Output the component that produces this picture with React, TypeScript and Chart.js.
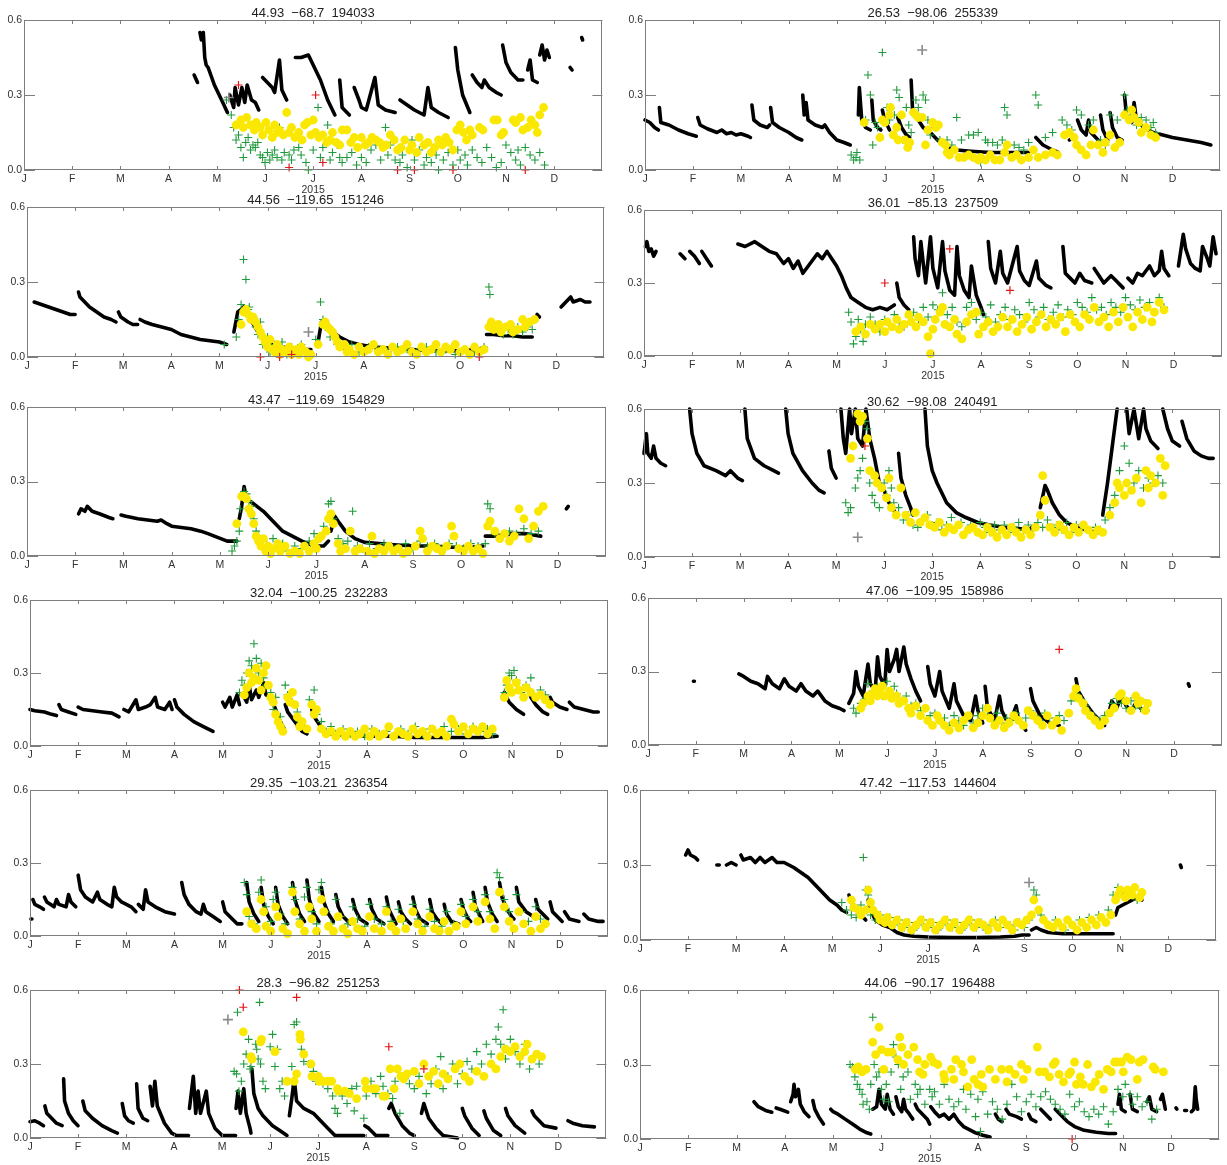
import { useEffect, useRef } from 'react';
import { Chart, registerables } from 'chart.js';
Chart.register(...registerables);

type Pt = [number, number];

const monthLabels = ['J', 'F', 'M', 'A', 'M', 'J', 'J', 'A', 'S', 'O', 'N', 'D'];
const yTickValues = [0, 0.3, 0.6];
const yearLabel = '2015';
const panelTitles = [
  '44.93  \u221268.7  194033',
  '26.53  \u221298.06  255339',
  '44.56  \u2212119.65  151246',
  '36.01  \u221285.13  237509',
  '43.47  \u2212119.69  154829',
  '30.62  \u221298.08  240491',
  '32.04  \u2212100.25  232283',
  '47.06  \u2212109.95  158986',
  '29.35  \u2212103.21  236354',
  '47.42  \u2212117.53  144604',
  '28.3  \u221296.82  251253',
  '44.06  \u221290.17  196488',
];

// ---------- Panel 1 ----------
const p1Black: Pt[][] = [
  [[3.53,0.38],[3.6,0.35]],
  [[3.65,0.55],[3.68,0.52],[3.72,0.55],[3.75,0.45],[3.78,0.42],[3.82,0.41],[3.95,0.34],[4.1,0.28],[4.22,0.23]],
  [[4.27,0.3],[4.35,0.25],[4.38,0.33],[4.45,0.26],[4.52,0.33],[4.58,0.27],[4.63,0.34],[4.72,0.28],[4.8,0.27],[4.87,0.24]],
  [[4.95,0.37],[5.05,0.35],[5.15,0.33],[5.2,0.31],[5.3,0.44],[5.35,0.32],[5.45,0.28]],
  [[5.63,0.45],[5.75,0.45],[5.9,0.46],[6.0,0.42],[6.15,0.36],[6.3,0.28],[6.45,0.22]],
  [[6.55,0.36],[6.6,0.25],[6.75,0.22]],
  [[6.85,0.33],[6.95,0.28],[7.0,0.25],[7.1,0.24],[7.28,0.37],[7.35,0.26],[7.5,0.24],[7.7,0.23]],
  [[7.8,0.28],[7.95,0.26],[8.1,0.24],[8.3,0.22],[8.38,0.33],[8.45,0.25],[8.6,0.23],[8.8,0.21]],
  [[8.95,0.49],[9.0,0.4],[9.1,0.3],[9.25,0.23]],
  [[9.3,0.38],[9.4,0.35],[9.5,0.33],[9.55,0.36],[9.65,0.33],[9.8,0.31],[9.9,0.3]],
  [[9.93,0.5],[10.0,0.43],[10.1,0.39],[10.25,0.36],[10.35,0.36]],
  [[10.45,0.4],[10.5,0.44],[10.55,0.36],[10.65,0.35]],
  [[10.7,0.46],[10.75,0.5],[10.8,0.44],[10.85,0.48],[10.9,0.45]],
  [[11.33,0.41],[11.37,0.4]],
  [[11.57,0.53],[11.59,0.52]],
];
const p1Yellow: Pt[] = [[4.4,0.18],[4.5,0.2],[4.55,0.17],[4.62,0.21],[4.7,0.18],[4.78,0.16],[4.82,0.19],[4.9,0.17],[4.95,0.14],[5.02,0.19],[5.08,0.16],[5.15,0.13],[5.2,0.18],[5.25,0.15],[5.3,0.16],[5.38,0.14],[5.45,0.23],[5.5,0.15],[5.55,0.17],[5.62,0.13],[5.7,0.15],[5.77,0.12],[5.82,0.18],[5.88,0.19],[5.95,0.14],[6.0,0.2],[6.05,0.15],[6.12,0.13],[6.2,0.14],[6.28,0.11],[6.35,0.12],[6.4,0.15],[6.48,0.11],[6.55,0.1],[6.6,0.16],[6.7,0.16],[6.78,0.11],[6.85,0.13],[6.92,0.09],[7.0,0.13],[7.08,0.1],[7.15,0.11],[7.22,0.13],[7.3,0.12],[7.38,0.11],[7.45,0.09],[7.52,0.1],[7.6,0.14],[7.68,0.12],[7.75,0.08],[7.82,0.09],[7.9,0.12],[8.0,0.08],[8.05,0.1],[8.15,0.07],[8.2,0.13],[8.3,0.1],[8.38,0.11],[8.45,0.07],[8.52,0.09],[8.6,0.12],[8.68,0.1],[8.75,0.13],[8.82,0.11],[8.9,0.08],[8.98,0.16],[9.05,0.18],[9.12,0.15],[9.18,0.12],[9.25,0.16],[9.3,0.14],[9.45,0.17],[9.52,0.16],[9.75,0.2],[9.82,0.2],[9.9,0.14],[9.95,0.15],[10.15,0.2],[10.2,0.19],[10.3,0.21],[10.35,0.16],[10.45,0.17],[10.52,0.2],[10.6,0.18],[10.65,0.15],[10.7,0.22],[10.78,0.25]];
const p1Green: Pt[] = [[4.2,0.28],[4.3,0.22],[4.35,0.17],[4.4,0.12],[4.45,0.14],[4.5,0.09],[4.55,0.05],[4.6,0.11],[4.65,0.13],[4.7,0.08],[4.75,0.1],[4.8,0.09],[4.85,0.11],[4.9,0.06],[4.95,0.05],[5.0,0.03],[5.05,0.07],[5.1,0.04],[5.15,0.06],[5.2,0.08],[5.25,0.05],[5.3,0.17],[5.35,0.04],[5.4,0.07],[5.5,0.06],[5.55,0.04],[5.6,0.08],[5.7,0.09],[5.75,0.06],[5.85,0.03],[5.9,0.0],[6.0,0.08],[6.1,0.25],[6.15,0.05],[6.2,0.09],[6.3,0.18],[6.35,0.04],[6.4,0.07],[6.5,0.1],[6.55,0.05],[6.6,0.03],[6.7,0.05],[6.8,0.07],[6.9,0.02],[7.0,0.05],[7.1,0.03],[7.2,0.08],[7.3,0.1],[7.4,0.04],[7.5,0.17],[7.55,0.06],[7.6,0.1],[7.7,0.04],[7.8,0.03],[7.85,0.06],[7.95,0.01],[8.05,0.12],[8.1,0.04],[8.2,0.08],[8.3,0.02],[8.35,0.05],[8.45,0.03],[8.55,0.06],[8.6,0.0],[8.7,0.04],[8.8,0.07],[8.9,0.02],[9.0,0.08],[9.05,0.04],[9.15,0.06],[9.2,0.02],[9.3,0.08],[9.4,0.05],[9.5,0.03],[9.6,0.09],[9.7,0.05],[9.8,0.01],[9.9,0.03],[10.0,0.1],[10.1,0.07],[10.2,0.04],[10.25,0.08],[10.3,0.02],[10.4,0.09],[10.5,0.06],[10.6,0.04],[10.7,0.07],[10.8,0.02]];
const p1Red: Pt[] = [[4.45,0.34],[5.5,0.01],[6.05,0.3],[6.2,0.03],[7.75,0.0],[8.1,0.0],[8.9,0.0],[10.4,0.0]];
const p1Gray: Pt[] = [[4.25,0.29]];

// ---------- Panel 2 ----------
const p2Black: Pt[][] = [
  [[0,0.2],[0.1,0.19],[0.2,0.17],[0.28,0.16]],
  [[0.3,0.25],[0.33,0.19],[0.5,0.18],[0.7,0.16],[0.9,0.145],[1.07,0.135]],
  [[1.1,0.21],[1.15,0.18],[1.3,0.165],[1.5,0.15],[1.6,0.16],[1.7,0.145],[1.8,0.15],[1.9,0.14],[2.0,0.145],[2.15,0.135],[2.2,0.13]],
  [[2.23,0.26],[2.27,0.2],[2.4,0.18],[2.55,0.17],[2.6,0.18]],
  [[2.62,0.25],[2.66,0.19],[2.8,0.17],[3.0,0.15],[3.15,0.13],[3.27,0.12]],
  [[3.29,0.3],[3.32,0.22],[3.36,0.27],[3.4,0.2],[3.55,0.18],[3.7,0.17],[3.75,0.18],[3.85,0.15],[4.0,0.12],[4.15,0.11],[4.28,0.1]],
  [[4.45,0.22],[4.47,0.33],[4.52,0.2],[4.6,0.17],[4.7,0.16]],
  [[4.73,0.28],[4.76,0.2],[4.85,0.17],[4.92,0.16]],
  [[4.95,0.24],[5.0,0.2],[5.1,0.16]],
  [[5.27,0.21],[5.35,0.17],[5.45,0.14],[5.52,0.13]],
  [[5.55,0.36],[5.58,0.24],[5.7,0.2],[5.8,0.17],[5.95,0.15],[6.1,0.12],[6.3,0.09],[6.5,0.08],[6.8,0.075],[7.2,0.07],[7.6,0.07],[8.0,0.07]],
  [[8.15,0.13],[8.3,0.1],[8.5,0.08],[8.62,0.07]],
  [[8.85,0.12],[8.95,0.13]],
  [[9.02,0.2],[9.1,0.16],[9.2,0.14],[9.25,0.2],[9.3,0.15],[9.45,0.12]],
  [[9.5,0.22],[9.55,0.16],[9.65,0.12]],
  [[9.7,0.23],[9.75,0.17],[9.85,0.13],[9.95,0.12]],
  [[10.0,0.3],[10.05,0.2],[10.15,0.19],[10.2,0.27],[10.25,0.2],[10.4,0.17],[10.6,0.15],[10.8,0.14],[11.0,0.13],[11.3,0.12],[11.6,0.11],[11.8,0.1]],
];
const p2Yellow: Pt[] = [[4.57,0.19],[4.9,0.13],[4.95,0.2],[5.0,0.19],[5.1,0.22],[5.12,0.25],[5.18,0.14],[5.25,0.17],[5.28,0.12],[5.35,0.22],[5.42,0.12],[5.48,0.09],[5.52,0.11],[5.6,0.23],[5.65,0.22],[5.7,0.21],[5.78,0.21],[5.85,0.1],[5.9,0.16],[6.0,0.19],[6.07,0.17],[6.12,0.18],[6.2,0.11],[6.27,0.1],[6.3,0.07],[6.35,0.06],[6.45,0.08],[6.55,0.05],[6.65,0.05],[6.75,0.06],[6.85,0.05],[6.95,0.04],[7.0,0.05],[7.1,0.04],[7.2,0.06],[7.3,0.04],[7.4,0.04],[7.5,0.07],[7.55,0.1],[7.65,0.05],[7.75,0.06],[7.85,0.04],[8.0,0.05],[8.1,0.08],[8.2,0.05],[8.35,0.06],[8.5,0.07],[8.6,0.06],[8.75,0.14],[8.85,0.15],[8.95,0.13],[9.0,0.1],[9.1,0.08],[9.2,0.06],[9.3,0.1],[9.35,0.16],[9.45,0.1],[9.55,0.07],[9.6,0.11],[9.7,0.14],[9.8,0.09],[9.9,0.11],[10.0,0.22],[10.1,0.2],[10.15,0.24],[10.2,0.21],[10.3,0.19],[10.35,0.15],[10.45,0.17],[10.55,0.14],[10.65,0.13]];
const p2Green: Pt[] = [[4.3,0.06],[4.35,0.04],[4.4,0.05],[4.42,0.07],[4.48,0.04],[4.6,0.2],[4.65,0.38],[4.7,0.3],[4.75,0.1],[4.8,0.19],[4.85,0.17],[4.95,0.47],[5.05,0.25],[5.1,0.2],[5.2,0.22],[5.25,0.32],[5.3,0.29],[5.38,0.12],[5.45,0.25],[5.5,0.18],[5.55,0.15],[5.65,0.28],[5.7,0.25],[5.8,0.3],[5.85,0.28],[5.9,0.2],[5.95,0.14],[6.05,0.17],[6.15,0.12],[6.3,0.12],[6.4,0.1],[6.5,0.21],[6.6,0.12],[6.75,0.14],[6.85,0.14],[6.95,0.15],[7.0,0.03],[7.1,0.12],[7.15,0.11],[7.25,0.11],[7.35,0.1],[7.45,0.12],[7.5,0.25],[7.55,0.22],[7.7,0.1],[7.8,0.09],[7.9,0.08],[8.0,0.11],[8.15,0.3],[8.2,0.26],[8.35,0.13],[8.5,0.15],[8.7,0.2],[8.8,0.18],[8.9,0.16],[9.0,0.24],[9.1,0.22],[9.25,0.18],[9.35,0.2],[9.5,0.12],[9.6,0.1],[9.7,0.22],[9.85,0.2],[10.0,0.3],[10.05,0.24],[10.15,0.22],[10.25,0.18],[10.35,0.21],[10.45,0.2],[10.55,0.17],[10.6,0.19],[10.65,0.15]];
const p2Red: Pt[] = [];
const p2Gray: Pt[] = [[5.78,0.48]];

// ---------- Panel 3 ----------
const p3Black: Pt[][] = [
  [[0.15,0.22],[0.3,0.21],[0.45,0.2],[0.6,0.19],[0.75,0.18],[0.9,0.17],[1.0,0.17]],
  [[1.07,0.26],[1.1,0.24],[1.2,0.22],[1.3,0.2],[1.45,0.18],[1.6,0.16],[1.75,0.15],[1.85,0.14]],
  [[1.9,0.18],[1.95,0.16],[2.1,0.14],[2.2,0.13],[2.3,0.13]],
  [[2.35,0.15],[2.45,0.14],[2.6,0.13],[2.8,0.12],[3.0,0.11],[3.2,0.09],[3.4,0.08],[3.6,0.07],[3.8,0.065],[4.0,0.06],[4.15,0.05]],
  [[4.3,0.1],[4.38,0.18],[4.45,0.19],[4.5,0.2],[4.55,0.18],[4.65,0.15],[4.8,0.1],[4.95,0.07],[5.1,0.05],[5.3,0.04],[5.5,0.035],[5.7,0.03],[5.9,0.03]],
  [[6.05,0.06],[6.12,0.14],[6.2,0.13],[6.35,0.1],[6.5,0.08],[6.7,0.06],[6.9,0.05],[7.2,0.04],[7.6,0.035],[8.0,0.03],[8.5,0.025],[9.0,0.025],[9.4,0.03],[9.5,0.04]],
  [[9.55,0.09],[9.7,0.09],[9.9,0.085],[10.1,0.085],[10.3,0.08],[10.5,0.08]],
  [[10.6,0.17],[10.65,0.16]],
  [[11.1,0.2],[11.2,0.22],[11.3,0.24],[11.35,0.22],[11.5,0.23],[11.6,0.22],[11.7,0.22]],
];
const p3Yellow: Pt[] = [[4.45,0.13],[4.5,0.18],[4.55,0.19],[4.6,0.17],[4.65,0.15],[4.7,0.16],[4.75,0.14],[4.8,0.12],[4.85,0.1],[4.9,0.08],[4.95,0.06],[5.0,0.04],[5.05,0.07],[5.1,0.03],[5.15,0.02],[5.2,0.05],[5.25,0.01],[5.3,0.03],[5.4,0.02],[5.45,0.04],[5.5,0.01],[5.6,0.03],[5.65,0.01],[5.7,0.04],[5.8,0.02],[5.85,0.0],[5.9,0.01],[6.05,0.05],[6.15,0.13],[6.2,0.14],[6.25,0.12],[6.3,0.11],[6.35,0.1],[6.4,0.08],[6.45,0.06],[6.5,0.04],[6.6,0.05],[6.65,0.02],[6.7,0.03],[6.8,0.01],[6.9,0.04],[7.0,0.02],[7.1,0.03],[7.2,0.05],[7.3,0.02],[7.4,0.03],[7.5,0.01],[7.6,0.04],[7.7,0.02],[7.8,0.03],[7.9,0.05],[8.0,0.02],[8.1,0.01],[8.2,0.04],[8.3,0.02],[8.4,0.03],[8.5,0.05],[8.6,0.02],[8.7,0.04],[8.8,0.03],[8.9,0.05],[9.0,0.02],[9.1,0.03],[9.2,0.01],[9.3,0.04],[9.4,0.02],[9.5,0.03],[9.6,0.12],[9.65,0.14],[9.7,0.11],[9.8,0.13],[9.85,0.1],[9.95,0.12],[10.05,0.13],[10.1,0.1],[10.2,0.11],[10.3,0.15],[10.35,0.12],[10.45,0.14],[10.55,0.15]];
const p3Green: Pt[] = [[4.1,0.05],[4.35,0.08],[4.4,0.15],[4.45,0.21],[4.5,0.39],[4.55,0.31],[4.6,0.19],[4.62,0.2],[4.7,0.16],[4.75,0.12],[4.8,0.09],[4.85,0.14],[4.9,0.05],[5.0,0.08],[5.05,0.02],[5.15,0.05],[5.2,0.03],[5.3,0.06],[5.4,0.01],[5.5,0.04],[5.6,0.02],[5.7,0.05],[5.8,0.01],[6.0,0.07],[6.1,0.22],[6.15,0.15],[6.2,0.12],[6.3,0.08],[6.45,0.05],[6.6,0.03],[6.75,0.05],[6.9,0.02],[7.1,0.04],[7.3,0.03],[7.5,0.02],[7.7,0.04],[7.9,0.03],[8.1,0.02],[8.3,0.04],[8.5,0.02],[8.7,0.03],[8.9,0.01],[9.1,0.03],[9.3,0.02],[9.5,0.04],[9.6,0.28],[9.62,0.25],[9.7,0.12],[9.8,0.1],[9.9,0.09],[10.0,0.11],[10.1,0.09],[10.2,0.12],[10.3,0.1],[10.4,0.12],[10.5,0.11]];
const p3Red: Pt[] = [[4.85,0.0],[5.25,0.0],[5.5,0.01],[9.4,0.0]];
const p3Gray: Pt[] = [[5.85,0.1]];

// ---------- Panel 4 ----------
const p4Black: Pt[][] = [
  [[0.03,0.45],[0.06,0.47],[0.1,0.43],[0.15,0.44],[0.2,0.41],[0.25,0.43]],
  [[0.75,0.42],[0.85,0.4]],
  [[0.95,0.43],[1.05,0.41],[1.15,0.38]],
  [[1.2,0.43],[1.3,0.4],[1.4,0.37]],
  [[1.95,0.46],[2.1,0.45],[2.3,0.47],[2.45,0.45],[2.6,0.43],[2.75,0.42],[2.9,0.38],[3.0,0.4],[3.1,0.36],[3.2,0.39],[3.3,0.34],[3.45,0.38],[3.6,0.42],[3.7,0.4],[3.8,0.43],[3.9,0.4],[4.0,0.37],[4.1,0.33],[4.2,0.28],[4.3,0.24],[4.45,0.22],[4.6,0.2],[4.75,0.19],[4.9,0.2],[5.05,0.19],[5.2,0.21]],
  [[5.25,0.3],[5.3,0.24],[5.4,0.21],[5.5,0.19]],
  [[5.6,0.49],[5.63,0.4],[5.7,0.33],[5.75,0.47],[5.8,0.38],[5.85,0.3],[5.95,0.49],[6.0,0.36],[6.1,0.28],[6.2,0.47],[6.25,0.35],[6.35,0.27],[6.45,0.25],[6.5,0.45],[6.55,0.33],[6.65,0.27],[6.75,0.24],[6.8,0.37],[6.9,0.25],[7.0,0.2],[7.05,0.17]],
  [[7.15,0.47],[7.2,0.36],[7.3,0.3],[7.4,0.43],[7.45,0.34],[7.55,0.3],[7.75,0.45],[7.8,0.35],[7.9,0.31],[8.0,0.29],[8.15,0.39],[8.2,0.32],[8.35,0.29],[8.45,0.28]],
  [[8.7,0.45],[8.75,0.34],[8.85,0.32],[8.95,0.3],[9.05,0.34],[9.15,0.31],[9.3,0.3]],
  [[9.35,0.36],[9.45,0.33],[9.55,0.3],[9.7,0.33],[9.8,0.31],[9.95,0.28]],
  [[10.05,0.32],[10.15,0.3],[10.25,0.34],[10.35,0.33],[10.5,0.37],[10.6,0.33],[10.7,0.35],[10.75,0.43],[10.8,0.36],[10.9,0.33]],
  [[11.1,0.37],[11.2,0.5],[11.25,0.44],[11.35,0.38],[11.45,0.36],[11.55,0.35],[11.6,0.45],[11.7,0.4],[11.75,0.37],[11.82,0.49],[11.88,0.42]],
];
const p4Yellow: Pt[] = [[4.4,0.1],[4.5,0.12],[4.6,0.09],[4.7,0.13],[4.8,0.11],[4.9,0.13],[5.0,0.1],[5.05,0.14],[5.15,0.12],[5.25,0.15],[5.3,0.11],[5.4,0.13],[5.5,0.17],[5.55,0.14],[5.65,0.12],[5.7,0.16],[5.8,0.14],[5.9,0.08],[5.95,0.01],[6.0,0.11],[6.05,0.15],[6.15,0.18],[6.2,0.2],[6.25,0.13],[6.35,0.12],[6.45,0.15],[6.5,0.09],[6.6,0.07],[6.7,0.14],[6.8,0.17],[6.9,0.18],[6.95,0.09],[7.05,0.12],[7.15,0.14],[7.25,0.1],[7.35,0.12],[7.45,0.16],[7.55,0.12],[7.65,0.15],[7.75,0.1],[7.85,0.13],[7.95,0.16],[8.05,0.11],[8.15,0.14],[8.25,0.17],[8.35,0.12],[8.45,0.15],[8.55,0.13],[8.65,0.16],[8.75,0.1],[8.85,0.17],[8.95,0.14],[9.05,0.12],[9.15,0.17],[9.25,0.15],[9.35,0.2],[9.45,0.14],[9.55,0.16],[9.65,0.12],[9.75,0.18],[9.85,0.14],[9.95,0.2],[10.05,0.16],[10.15,0.12],[10.25,0.18],[10.35,0.15],[10.45,0.2],[10.55,0.14],[10.6,0.18],[10.7,0.22],[10.8,0.19]];
const p4Green: Pt[] = [[4.25,0.18],[4.3,0.14],[4.35,0.05],[4.4,0.08],[4.45,0.15],[4.5,0.11],[4.55,0.06],[4.6,0.13],[4.7,0.16],[4.8,0.13],[4.9,0.1],[5.0,0.15],[5.1,0.13],[5.2,0.17],[5.3,0.14],[5.4,0.12],[5.5,0.16],[5.6,0.18],[5.7,0.15],[5.8,0.2],[5.9,0.16],[6.0,0.21],[6.1,0.19],[6.2,0.26],[6.3,0.17],[6.4,0.2],[6.5,0.14],[6.6,0.12],[6.7,0.2],[6.8,0.22],[6.9,0.15],[7.0,0.18],[7.1,0.16],[7.2,0.21],[7.3,0.14],[7.4,0.17],[7.5,0.2],[7.6,0.15],[7.7,0.19],[7.8,0.17],[7.9,0.14],[8.0,0.22],[8.1,0.19],[8.2,0.16],[8.3,0.2],[8.4,0.15],[8.5,0.18],[8.6,0.21],[8.7,0.16],[8.8,0.19],[8.9,0.17],[9.0,0.22],[9.1,0.2],[9.2,0.18],[9.3,0.24],[9.4,0.19],[9.5,0.2],[9.6,0.17],[9.7,0.22],[9.8,0.2],[9.9,0.18],[10.0,0.24],[10.1,0.21],[10.2,0.19],[10.3,0.23],[10.4,0.2],[10.5,0.22],[10.6,0.18],[10.7,0.24],[10.8,0.2]];
const p4Red: Pt[] = [[5.0,0.3],[6.35,0.44],[7.6,0.27]];
const p4Gray: Pt[] = [];

// ---------- Panel 5 ----------
const p5Black: Pt[][] = [
  [[1.07,0.17],[1.12,0.19],[1.2,0.18],[1.25,0.2],[1.35,0.18],[1.5,0.17],[1.7,0.155],[1.78,0.15]],
  [[1.95,0.165],[2.05,0.16],[2.3,0.15],[2.5,0.145],[2.7,0.14],[2.78,0.145],[2.9,0.13],[3.0,0.12],[3.2,0.115],[3.4,0.11],[3.6,0.1],[3.75,0.09],[3.95,0.075],[4.15,0.06],[4.35,0.06]],
  [[4.4,0.15],[4.45,0.2],[4.5,0.28],[4.55,0.23],[4.7,0.21],[4.9,0.18],[5.1,0.14],[5.3,0.1],[5.5,0.08],[5.7,0.06],[5.95,0.04],[6.15,0.04],[6.25,0.06]],
  [[6.3,0.1],[6.38,0.16],[6.45,0.14],[6.6,0.1],[6.8,0.07],[7.0,0.055],[7.3,0.05],[7.6,0.045],[8.0,0.04],[8.4,0.04],[8.8,0.035],[9.2,0.035],[9.45,0.04]],
  [[9.5,0.08],[9.7,0.08],[9.9,0.085],[10.1,0.09],[10.3,0.09],[10.5,0.085],[10.65,0.08]],
  [[11.18,0.19],[11.22,0.2]],
];
const p5Yellow: Pt[] = [[4.35,0.13],[4.45,0.24],[4.5,0.24],[4.55,0.23],[4.6,0.19],[4.65,0.17],[4.7,0.13],[4.75,0.08],[4.8,0.06],[4.85,0.04],[4.9,0.07],[4.95,0.02],[5.0,0.04],[5.05,0.01],[5.1,0.03],[5.2,0.05],[5.25,0.02],[5.35,0.04],[5.45,0.01],[5.55,0.02],[5.65,0.01],[5.75,0.04],[5.85,0.02],[5.95,0.05],[6.0,0.03],[6.05,0.07],[6.1,0.08],[6.2,0.1],[6.25,0.15],[6.3,0.17],[6.35,0.13],[6.45,0.05],[6.5,0.02],[6.6,0.03],[6.7,0.1],[6.8,0.02],[6.9,0.03],[7.05,0.02],[7.15,0.08],[7.2,0.01],[7.3,0.03],[7.4,0.02],[7.5,0.04],[7.6,0.02],[7.7,0.03],[7.8,0.01],[7.9,0.02],[8.05,0.04],[8.15,0.1],[8.2,0.07],[8.3,0.02],[8.4,0.04],[8.5,0.03],[8.6,0.02],[8.7,0.04],[8.8,0.12],[8.85,0.08],[8.95,0.03],[9.05,0.02],[9.15,0.04],[9.25,0.02],[9.35,0.03],[9.45,0.01],[9.55,0.12],[9.6,0.14],[9.7,0.1],[9.8,0.07],[9.9,0.09],[10.0,0.06],[10.1,0.08],[10.2,0.19],[10.3,0.15],[10.4,0.07],[10.5,0.12],[10.6,0.18],[10.7,0.2]];
const p5Green: Pt[] = [[4.25,0.02],[4.3,0.04],[4.35,0.06],[4.4,0.1],[4.42,0.19],[4.45,0.24],[4.5,0.26],[4.55,0.25],[4.6,0.22],[4.65,0.2],[4.7,0.15],[4.75,0.1],[4.8,0.08],[4.9,0.06],[5.0,0.04],[5.1,0.07],[5.2,0.03],[5.3,0.05],[5.4,0.02],[5.55,0.04],[5.7,0.03],[5.85,0.06],[5.95,0.09],[6.05,0.07],[6.15,0.12],[6.25,0.21],[6.3,0.22],[6.35,0.15],[6.45,0.07],[6.55,0.05],[6.65,0.06],[6.75,0.18],[6.85,0.04],[6.95,0.03],[7.1,0.05],[7.25,0.03],[7.4,0.05],[7.55,0.04],[7.7,0.03],[7.85,0.05],[8.0,0.03],[8.15,0.06],[8.3,0.04],[8.45,0.05],[8.6,0.03],[8.75,0.05],[8.9,0.04],[9.05,0.03],[9.2,0.05],[9.35,0.04],[9.5,0.05],[9.55,0.21],[9.6,0.19],[9.7,0.09],[9.85,0.08],[10.0,0.1],[10.15,0.09],[10.3,0.11],[10.45,0.09],[10.6,0.1]];
const p5Red: Pt[] = [];
const p5Gray: Pt[] = [];

// ---------- Panel 6 ----------
const p6Black: Pt[][] = [
  [[0.0,0.42],[0.05,0.5],[0.08,0.42],[0.15,0.4],[0.2,0.45],[0.25,0.4],[0.35,0.38],[0.45,0.37]],
  [[0.95,0.6],[1.0,0.5],[1.1,0.42],[1.25,0.37],[1.5,0.35],[1.7,0.33],[1.8,0.35],[1.95,0.32],[2.05,0.31]],
  [[2.1,0.6],[2.15,0.48],[2.3,0.4],[2.5,0.37],[2.7,0.35],[2.8,0.34]],
  [[2.95,0.6],[3.0,0.5],[3.1,0.42],[3.3,0.35],[3.5,0.3],[3.65,0.27],[3.75,0.26]],
  [[3.85,0.43],[3.9,0.36],[4.0,0.32]],
  [[4.1,0.6],[4.15,0.48],[4.2,0.42],[4.28,0.6],[4.32,0.5],[4.4,0.6],[4.45,0.48],[4.55,0.45],[4.62,0.6],[4.7,0.48],[4.8,0.4],[4.9,0.3],[5.0,0.27],[5.1,0.22],[5.2,0.19],[5.25,0.17]],
  [[5.3,0.42],[5.35,0.32],[5.45,0.25],[5.55,0.2],[5.6,0.17]],
  [[5.85,0.6],[5.9,0.45],[6.0,0.35],[6.1,0.3],[6.3,0.22],[6.5,0.18],[6.7,0.16],[6.95,0.14],[7.2,0.13],[7.5,0.12],[7.8,0.115],[8.0,0.11],[8.15,0.13]],
  [[8.25,0.2],[8.35,0.29],[8.4,0.27],[8.5,0.22],[8.65,0.17],[8.8,0.14],[9.0,0.12],[9.2,0.11],[9.4,0.1],[9.5,0.1]],
  [[9.55,0.17],[9.65,0.3],[9.75,0.45],[9.85,0.6]],
  [[10.05,0.6],[10.1,0.5],[10.2,0.6],[10.3,0.48],[10.4,0.6],[10.45,0.52],[10.55,0.47],[10.7,0.44]],
  [[10.8,0.6],[10.9,0.52],[11.0,0.47],[11.15,0.45]],
  [[11.2,0.55],[11.3,0.48],[11.45,0.43],[11.6,0.41],[11.75,0.4],[11.85,0.4]],
];
const p6Yellow: Pt[] = [[4.3,0.4],[4.35,0.45],[4.45,0.58],[4.5,0.55],[4.55,0.57],[4.65,0.48],[4.7,0.35],[4.8,0.33],[4.85,0.3],[4.95,0.28],[5.05,0.24],[5.1,0.32],[5.15,0.2],[5.25,0.17],[5.35,0.28],[5.45,0.17],[5.55,0.14],[5.65,0.18],[5.75,0.14],[5.85,0.16],[5.95,0.13],[6.05,0.12],[6.15,0.14],[6.25,0.1],[6.35,0.12],[6.45,0.11],[6.55,0.13],[6.65,0.09],[6.75,0.11],[6.85,0.12],[6.95,0.1],[7.05,0.09],[7.15,0.12],[7.25,0.1],[7.35,0.08],[7.45,0.11],[7.55,0.09],[7.65,0.12],[7.75,0.1],[7.85,0.08],[7.95,0.11],[8.05,0.09],[8.15,0.12],[8.25,0.17],[8.3,0.33],[8.35,0.23],[8.45,0.12],[8.55,0.1],[8.65,0.13],[8.75,0.11],[8.85,0.09],[8.95,0.12],[9.05,0.1],[9.15,0.13],[9.25,0.11],[9.35,0.09],[9.45,0.11],[9.55,0.1],[9.7,0.17],[9.8,0.22],[9.85,0.3],[9.9,0.28],[10.0,0.25],[10.05,0.3],[10.15,0.27],[10.25,0.32],[10.35,0.22],[10.45,0.35],[10.5,0.28],[10.55,0.33],[10.65,0.3],[10.75,0.4],[10.8,0.25],[10.85,0.37]];
const p6Green: Pt[] = [[4.2,0.22],[4.25,0.18],[4.3,0.2],[4.4,0.28],[4.45,0.32],[4.5,0.35],[4.55,0.4],[4.6,0.55],[4.65,0.52],[4.7,0.3],[4.75,0.25],[4.8,0.22],[4.9,0.2],[5.0,0.3],[5.05,0.25],[5.1,0.35],[5.15,0.28],[5.2,0.22],[5.3,0.2],[5.4,0.15],[5.5,0.17],[5.6,0.13],[5.7,0.12],[5.8,0.15],[5.9,0.17],[6.0,0.13],[6.1,0.14],[6.2,0.11],[6.3,0.13],[6.4,0.16],[6.5,0.12],[6.6,0.14],[6.7,0.1],[6.8,0.13],[6.9,0.11],[7.0,0.14],[7.1,0.12],[7.2,0.1],[7.3,0.13],[7.4,0.11],[7.5,0.13],[7.6,0.1],[7.7,0.12],[7.8,0.14],[7.9,0.11],[8.0,0.13],[8.1,0.11],[8.2,0.14],[8.3,0.12],[8.4,0.15],[8.5,0.12],[8.6,0.13],[8.7,0.11],[8.8,0.14],[8.9,0.1],[9.0,0.13],[9.1,0.11],[9.2,0.12],[9.3,0.1],[9.4,0.12],[9.5,0.11],[9.6,0.15],[9.7,0.2],[9.8,0.25],[9.9,0.35],[10.0,0.45],[10.1,0.38],[10.2,0.3],[10.3,0.35],[10.4,0.28],[10.5,0.32],[10.6,0.3],[10.7,0.33],[10.8,0.3]];
const p6Red: Pt[] = [[4.6,0.45]];
const p6Gray: Pt[] = [[4.45,0.08]];

// ---------- Panel 7 ----------
const p7Black: Pt[][] = [
  [[0.0,0.15],[0.1,0.145],[0.3,0.14],[0.45,0.13],[0.55,0.125]],
  [[0.6,0.17],[0.65,0.15],[0.8,0.14],[0.95,0.13]],
  [[1.0,0.16],[1.1,0.15],[1.3,0.145],[1.5,0.14],[1.7,0.135],[1.85,0.12]],
  [[1.95,0.15],[2.05,0.14],[2.2,0.19],[2.25,0.15],[2.4,0.16],[2.5,0.17],[2.6,0.2],[2.65,0.16],[2.8,0.15],[2.9,0.18],[2.95,0.15]],
  [[3.0,0.19],[3.05,0.16],[3.2,0.13],[3.4,0.1],[3.6,0.08],[3.8,0.06]],
  [[4.0,0.18],[4.05,0.16],[4.15,0.2],[4.2,0.16],[4.3,0.21],[4.35,0.17]],
  [[4.45,0.2],[4.5,0.18],[4.55,0.25],[4.6,0.19],[4.7,0.23],[4.75,0.2],[4.85,0.26],[4.9,0.21],[5.0,0.2],[5.1,0.15],[5.2,0.1],[5.28,0.07]],
  [[5.3,0.17],[5.35,0.14],[5.5,0.1],[5.65,0.06],[5.75,0.05]],
  [[5.85,0.15],[5.9,0.12],[6.0,0.09],[6.1,0.06],[6.2,0.05],[6.5,0.045],[7.0,0.04],[7.5,0.04],[8.0,0.035],[8.5,0.035],[9.0,0.035],[9.4,0.035],[9.7,0.04]],
  [[9.8,0.2],[9.85,0.22],[9.95,0.18],[10.1,0.15],[10.25,0.13]],
  [[10.35,0.24],[10.4,0.2],[10.5,0.17],[10.65,0.14],[10.75,0.13]],
  [[10.8,0.2],[10.85,0.18],[11.0,0.16],[11.15,0.15]],
  [[11.2,0.18],[11.3,0.16],[11.5,0.15],[11.7,0.14],[11.8,0.14]],
];
const p7Yellow: Pt[] = [[4.45,0.21],[4.5,0.24],[4.55,0.3],[4.6,0.26],[4.65,0.28],[4.7,0.32],[4.75,0.27],[4.8,0.23],[4.85,0.3],[4.9,0.33],[4.95,0.25],[5.0,0.2],[5.05,0.18],[5.1,0.13],[5.15,0.1],[5.2,0.08],[5.25,0.06],[5.35,0.2],[5.4,0.18],[5.45,0.22],[5.5,0.17],[5.55,0.12],[5.6,0.08],[5.65,0.1],[5.75,0.07],[5.85,0.17],[5.9,0.13],[5.95,0.15],[6.05,0.07],[6.15,0.05],[6.25,0.06],[6.35,0.04],[6.45,0.06],[6.55,0.04],[6.65,0.06],[6.75,0.04],[6.85,0.05],[6.95,0.07],[7.05,0.04],[7.15,0.06],[7.25,0.04],[7.35,0.05],[7.45,0.08],[7.55,0.04],[7.65,0.06],[7.75,0.05],[7.85,0.04],[7.95,0.07],[8.05,0.05],[8.15,0.06],[8.25,0.04],[8.35,0.07],[8.45,0.05],[8.55,0.06],[8.65,0.04],[8.75,0.11],[8.8,0.09],[8.9,0.06],[9.0,0.08],[9.1,0.05],[9.2,0.07],[9.3,0.06],[9.4,0.08],[9.5,0.05],[9.6,0.07],[9.85,0.2],[9.9,0.27],[9.95,0.24],[10.0,0.22],[10.1,0.26],[10.15,0.23],[10.25,0.2],[10.3,0.24],[10.4,0.22],[10.5,0.2],[10.6,0.21],[10.7,0.19],[10.8,0.17]];
const p7Green: Pt[] = [[4.35,0.22],[4.4,0.27],[4.45,0.25],[4.5,0.3],[4.55,0.35],[4.6,0.33],[4.65,0.42],[4.7,0.36],[4.75,0.3],[4.8,0.34],[4.85,0.28],[4.9,0.25],[5.0,0.22],[5.05,0.15],[5.1,0.2],[5.2,0.12],[5.3,0.25],[5.35,0.21],[5.45,0.18],[5.55,0.14],[5.6,0.1],[5.7,0.08],[5.8,0.19],[5.9,0.23],[5.95,0.13],[6.05,0.1],[6.15,0.06],[6.25,0.08],[6.35,0.05],[6.5,0.07],[6.65,0.05],[6.8,0.06],[6.95,0.04],[7.1,0.07],[7.25,0.05],[7.4,0.06],[7.55,0.04],[7.7,0.07],[7.85,0.05],[8.0,0.08],[8.15,0.05],[8.3,0.07],[8.45,0.05],[8.6,0.08],[8.75,0.06],[8.9,0.07],[9.05,0.05],[9.2,0.08],[9.35,0.06],[9.5,0.07],[9.6,0.05],[9.85,0.22],[9.9,0.25],[9.95,0.3],[10.0,0.29],[10.05,0.31],[10.1,0.27],[10.2,0.22],[10.3,0.25],[10.4,0.28],[10.5,0.2],[10.6,0.23],[10.7,0.21]];
const p7Red: Pt[] = [];
const p7Gray: Pt[] = [];

// ---------- Panel 8 ----------
const p8Black: Pt[][] = [
  [[0.95,0.26],[0.97,0.26]],
  [[1.9,0.29],[2.0,0.28],[2.15,0.26],[2.3,0.25],[2.45,0.23],[2.5,0.28],[2.6,0.25],[2.75,0.23],[2.85,0.27],[2.95,0.24],[3.1,0.22],[3.2,0.25],[3.3,0.22],[3.45,0.2],[3.55,0.22],[3.7,0.18],[3.85,0.16],[4.0,0.15],[4.1,0.14]],
  [[4.2,0.17],[4.3,0.21],[4.35,0.3],[4.4,0.24],[4.5,0.2],[4.6,0.33],[4.65,0.25],[4.75,0.22],[4.8,0.36],[4.85,0.28],[4.95,0.24],[5.0,0.39],[5.05,0.3],[5.15,0.35],[5.2,0.39],[5.25,0.3],[5.35,0.4],[5.4,0.33],[5.5,0.27],[5.6,0.22],[5.7,0.18]],
  [[5.85,0.32],[5.9,0.25],[6.0,0.2],[6.1,0.3],[6.15,0.22],[6.3,0.15],[6.4,0.25],[6.45,0.18],[6.6,0.12],[6.75,0.1],[6.85,0.2],[6.9,0.14],[7.0,0.09]],
  [[7.05,0.24],[7.1,0.15],[7.25,0.1],[7.35,0.2],[7.4,0.14],[7.55,0.08],[7.7,0.16],[7.75,0.1],[7.9,0.06]],
  [[8.0,0.23],[8.05,0.18],[8.2,0.12],[8.4,0.09],[8.6,0.08]],
  [[8.95,0.27],[9.0,0.22],[9.15,0.17],[9.3,0.13],[9.45,0.1],[9.55,0.08]],
  [[9.65,0.14],[9.7,0.18],[9.8,0.15],[9.9,0.2],[10.0,0.16],[10.1,0.14],[10.2,0.17],[10.3,0.15],[10.45,0.14]],
  [[11.3,0.25],[11.32,0.24]],
];
const p8Yellow: Pt[] = [[4.45,0.15],[4.5,0.17],[4.6,0.2],[4.65,0.18],[4.7,0.21],[4.75,0.23],[4.8,0.2],[4.85,0.22],[4.9,0.24],[4.95,0.2],[5.05,0.22],[5.1,0.19],[5.2,0.2],[5.25,0.17],[5.35,0.18],[5.45,0.15],[5.5,0.13],[5.6,0.16],[5.7,0.12],[5.8,0.15],[5.85,0.1],[5.95,0.08],[6.05,0.12],[6.1,0.1],[6.2,0.08],[6.3,0.06],[6.4,0.09],[6.5,0.07],[6.6,0.1],[6.7,0.12],[6.8,0.07],[6.9,0.09],[7.0,0.12],[7.1,0.15],[7.15,0.11],[7.25,0.08],[7.35,0.1],[7.45,0.07],[7.55,0.09],[7.65,0.12],[7.75,0.1],[7.85,0.08],[7.95,0.14],[8.05,0.12],[8.15,0.1],[8.25,0.08],[8.35,0.12],[8.45,0.08],[8.55,0.1],[8.65,0.06],[8.8,0.13],[8.9,0.2],[8.95,0.23],[9.0,0.19],[9.1,0.17],[9.15,0.14],[9.25,0.12],[9.35,0.1],[9.45,0.08],[9.55,0.1],[9.65,0.13],[9.75,0.15],[9.85,0.2],[9.9,0.21],[10.0,0.18],[10.1,0.14],[10.2,0.2],[10.25,0.17],[10.3,0.18],[10.4,0.14],[10.45,0.17]];
const p8Green: Pt[] = [[4.3,0.15],[4.35,0.13],[4.45,0.17],[4.55,0.19],[4.6,0.25],[4.7,0.22],[4.8,0.24],[4.9,0.2],[5.0,0.26],[5.05,0.22],[5.15,0.24],[5.2,0.21],[5.3,0.18],[5.4,0.2],[5.5,0.16],[5.6,0.17],[5.7,0.14],[5.8,0.15],[5.9,0.12],[6.0,0.13],[6.1,0.1],[6.2,0.11],[6.3,0.08],[6.4,0.12],[6.5,0.1],[6.6,0.08],[6.7,0.11],[6.8,0.09],[6.9,0.12],[7.0,0.15],[7.1,0.12],[7.2,0.1],[7.3,0.13],[7.4,0.09],[7.5,0.11],[7.6,0.1],[7.7,0.13],[7.8,0.09],[7.9,0.11],[8.0,0.14],[8.1,0.12],[8.2,0.1],[8.3,0.13],[8.4,0.11],[8.5,0.09],[8.6,0.12],[8.7,0.1],[8.85,0.18],[8.95,0.21],[9.05,0.19],[9.15,0.16],[9.25,0.13],[9.35,0.11],[9.45,0.1],[9.55,0.12],[9.7,0.17],[9.8,0.19],[9.9,0.17],[10.0,0.15],[10.1,0.18],[10.2,0.16],[10.3,0.15],[10.4,0.17]];
const p8Red: Pt[] = [[8.6,0.39]];
const p8Gray: Pt[] = [];

// ---------- Panel 9 ----------
const p9Black: Pt[][] = [
  [[0.02,0.07],[0.04,0.07]],
  [[0.06,0.15],[0.1,0.13],[0.2,0.12],[0.28,0.11]],
  [[0.3,0.16],[0.35,0.14],[0.5,0.12],[0.55,0.15],[0.6,0.13],[0.75,0.12],[0.8,0.17],[0.85,0.14],[0.95,0.12]],
  [[1.0,0.25],[1.05,0.19],[1.15,0.16],[1.3,0.14],[1.4,0.18],[1.45,0.15],[1.6,0.13],[1.7,0.12],[1.75,0.2],[1.8,0.16],[1.9,0.14],[2.0,0.13],[2.1,0.12],[2.2,0.1]],
  [[2.25,0.13],[2.35,0.11],[2.4,0.19],[2.45,0.14],[2.6,0.12],[2.8,0.1],[3.0,0.09]],
  [[3.15,0.22],[3.2,0.17],[3.3,0.13],[3.45,0.1],[3.55,0.09],[3.6,0.13],[3.65,0.1],[3.8,0.08],[3.95,0.06]],
  [[4.0,0.14],[4.05,0.1],[4.2,0.07],[4.3,0.05],[4.4,0.05]],
  [[4.5,0.22],[4.55,0.14],[4.65,0.09],[4.75,0.06]],
  [[4.8,0.2],[4.85,0.13],[4.95,0.08],[5.05,0.05]],
  [[5.1,0.2],[5.15,0.13],[5.25,0.08],[5.35,0.05]],
  [[5.45,0.22],[5.5,0.15],[5.6,0.09],[5.7,0.06]],
  [[5.75,0.23],[5.8,0.15],[5.9,0.09],[6.0,0.06]],
  [[6.05,0.2],[6.1,0.14],[6.2,0.09],[6.3,0.06]],
  [[6.35,0.17],[6.4,0.12],[6.5,0.08],[6.65,0.05]],
  [[6.7,0.15],[6.75,0.11],[6.85,0.07],[7.0,0.05]],
  [[7.05,0.15],[7.1,0.11],[7.2,0.07],[7.35,0.05]],
  [[7.4,0.16],[7.45,0.11],[7.55,0.07],[7.6,0.05]],
  [[7.65,0.14],[7.7,0.1],[7.8,0.07],[7.9,0.05]],
  [[7.95,0.16],[8.0,0.11],[8.1,0.07],[8.25,0.05]],
  [[8.3,0.15],[8.35,0.1],[8.45,0.07],[8.55,0.05]],
  [[8.6,0.13],[8.65,0.09],[8.75,0.06],[8.9,0.05]],
  [[8.95,0.15],[9.0,0.11],[9.1,0.07],[9.15,0.06]],
  [[9.2,0.18],[9.25,0.12],[9.35,0.08],[9.4,0.06]],
  [[9.45,0.2],[9.5,0.14],[9.6,0.09],[9.7,0.06]],
  [[9.75,0.22],[9.8,0.16],[9.9,0.11],[10.0,0.08],[10.05,0.07]],
  [[10.1,0.2],[10.15,0.14],[10.3,0.1],[10.45,0.08]],
  [[10.5,0.15],[10.55,0.11],[10.7,0.08],[10.75,0.07]],
  [[10.8,0.14],[10.85,0.1],[11.0,0.07],[11.05,0.06]],
  [[11.1,0.1],[11.2,0.07],[11.4,0.06]],
  [[11.5,0.09],[11.6,0.07],[11.8,0.06],[11.9,0.06]],
];
const p9Yellow: Pt[] = [[4.5,0.1],[4.6,0.05],[4.7,0.03],[4.8,0.15],[4.85,0.1],[4.9,0.04],[5.0,0.02],[5.1,0.12],[5.15,0.08],[5.25,0.03],[5.35,0.01],[5.45,0.18],[5.5,0.1],[5.6,0.05],[5.7,0.02],[5.8,0.12],[5.85,0.07],[5.95,0.02],[6.05,0.15],[6.1,0.1],[6.2,0.04],[6.3,0.02],[6.4,0.08],[6.5,0.03],[6.6,0.01],[6.7,0.06],[6.8,0.03],[6.9,0.02],[7.05,0.08],[7.15,0.03],[7.3,0.02],[7.4,0.1],[7.5,0.04],[7.6,0.02],[7.7,0.07],[7.8,0.03],[7.95,0.1],[8.05,0.05],[8.15,0.02],[8.3,0.08],[8.4,0.03],[8.5,0.02],[8.6,0.06],[8.7,0.02],[8.85,0.04],[8.95,0.1],[9.05,0.05],[9.2,0.12],[9.3,0.06],[9.45,0.14],[9.55,0.07],[9.65,0.03],[9.75,0.18],[9.85,0.12],[9.95,0.06],[10.05,0.03],[10.15,0.1],[10.25,0.05],[10.4,0.02],[10.5,0.08],[10.6,0.03],[10.7,0.05]];
const p9Green: Pt[] = [[4.45,0.22],[4.5,0.17],[4.55,0.08],[4.65,0.05],[4.75,0.18],[4.8,0.23],[4.9,0.12],[5.0,0.06],[5.05,0.15],[5.1,0.18],[5.2,0.09],[5.3,0.05],[5.45,0.2],[5.5,0.15],[5.6,0.07],[5.7,0.16],[5.75,0.2],[5.85,0.1],[5.95,0.05],[6.0,0.19],[6.05,0.22],[6.15,0.1],[6.25,0.05],[6.35,0.15],[6.45,0.08],[6.6,0.05],[6.7,0.12],[6.8,0.07],[6.95,0.04],[7.05,0.13],[7.15,0.07],[7.3,0.05],[7.4,0.12],[7.5,0.06],[7.65,0.11],[7.75,0.06],[7.95,0.13],[8.05,0.07],[8.2,0.04],[8.3,0.11],[8.4,0.06],[8.55,0.04],[8.65,0.1],[8.8,0.05],[8.95,0.13],[9.05,0.08],[9.2,0.15],[9.3,0.1],[9.45,0.17],[9.55,0.1],[9.7,0.26],[9.75,0.24],[9.85,0.15],[9.95,0.1],[10.1,0.17],[10.2,0.1],[10.35,0.06],[10.5,0.12],[10.6,0.07],[10.7,0.05]];
const p9Red: Pt[] = [];
const p9Gray: Pt[] = [];

// ---------- Panel 10 ----------
const p10Black: Pt[][] = [
  [[0.95,0.34],[1.0,0.36],[1.05,0.34],[1.15,0.33],[1.2,0.32]],
  [[1.6,0.3],[1.65,0.3]],
  [[1.8,0.3],[1.9,0.31],[2.0,0.3]],
  [[2.1,0.34],[2.15,0.32],[2.3,0.33],[2.4,0.31],[2.5,0.33],[2.6,0.31],[2.75,0.33],[2.85,0.31],[3.0,0.31],[3.1,0.3],[3.2,0.29],[3.35,0.27],[3.5,0.25],[3.65,0.22],[3.8,0.19],[3.95,0.16],[4.1,0.14],[4.2,0.12],[4.3,0.11]],
  [[4.35,0.18],[4.4,0.15],[4.5,0.13],[4.6,0.1],[4.7,0.08]],
  [[4.75,0.16],[4.8,0.12],[4.9,0.08],[5.05,0.06],[5.2,0.05],[5.35,0.03],[5.5,0.02],[5.7,0.015],[6.0,0.012],[6.5,0.01],[7.0,0.01],[7.5,0.012],[7.8,0.015],[7.95,0.02],[8.1,0.02]],
  [[8.15,0.04],[8.25,0.05],[8.35,0.04],[8.5,0.03],[8.8,0.025],[9.2,0.025],[9.6,0.025],[9.85,0.025]],
  [[9.9,0.1],[9.95,0.13],[10.05,0.14],[10.15,0.15],[10.25,0.16],[10.35,0.17],[10.45,0.16]],
  [[11.25,0.3],[11.27,0.29]],
];
const p10Yellow: Pt[] = [[4.4,0.16],[4.45,0.13],[4.55,0.12],[4.6,0.1],[4.7,0.12],[4.75,0.2],[4.8,0.15],[4.85,0.12],[4.95,0.1],[5.0,0.08],[5.1,0.07],[5.15,0.09],[5.25,0.06],[5.35,0.08],[5.45,0.05],[5.55,0.07],[5.65,0.04],[5.75,0.06],[5.85,0.08],[5.95,0.05],[6.05,0.07],[6.15,0.04],[6.25,0.06],[6.35,0.08],[6.45,0.05],[6.55,0.07],[6.65,0.04],[6.75,0.06],[6.85,0.08],[6.95,0.05],[7.05,0.07],[7.15,0.06],[7.25,0.04],[7.35,0.07],[7.45,0.05],[7.55,0.08],[7.65,0.06],[7.75,0.04],[7.85,0.07],[7.95,0.06],[8.05,0.08],[8.15,0.1],[8.2,0.16],[8.3,0.12],[8.4,0.08],[8.5,0.06],[8.6,0.05],[8.7,0.07],[8.8,0.05],[8.9,0.08],[9.0,0.06],[9.1,0.04],[9.2,0.07],[9.3,0.05],[9.4,0.08],[9.5,0.06],[9.6,0.09],[9.7,0.07],[9.8,0.1],[9.9,0.16],[9.95,0.18],[10.0,0.2],[10.1,0.17],[10.15,0.2],[10.25,0.18],[10.3,0.21],[10.4,0.17],[10.45,0.19]];
const p10Green: Pt[] = [[4.2,0.15],[4.3,0.12],[4.4,0.1],[4.5,0.09],[4.55,0.12],[4.6,0.14],[4.65,0.33],[4.7,0.2],[4.75,0.18],[4.8,0.1],[4.9,0.08],[5.0,0.1],[5.1,0.07],[5.2,0.09],[5.3,0.06],[5.4,0.08],[5.5,0.05],[5.6,0.07],[5.7,0.04],[5.8,0.06],[5.9,0.08],[6.0,0.05],[6.1,0.07],[6.2,0.04],[6.3,0.06],[6.4,0.08],[6.5,0.05],[6.6,0.07],[6.7,0.04],[6.8,0.06],[6.9,0.08],[7.0,0.05],[7.1,0.07],[7.2,0.04],[7.3,0.06],[7.4,0.08],[7.5,0.05],[7.6,0.07],[7.7,0.06],[7.8,0.04],[7.9,0.07],[8.0,0.05],[8.1,0.08],[8.2,0.2],[8.25,0.18],[8.35,0.1],[8.45,0.07],[8.55,0.05],[8.65,0.08],[8.75,0.06],[8.85,0.04],[8.95,0.07],[9.05,0.05],[9.15,0.08],[9.25,0.06],[9.35,0.09],[9.45,0.07],[9.55,0.1],[9.65,0.08],[9.75,0.12],[9.85,0.18],[9.95,0.21],[10.05,0.19],[10.15,0.17],[10.25,0.2],[10.35,0.16]];
const p10Red: Pt[] = [];
const p10Gray: Pt[] = [[8.1,0.23]];

// ---------- Panel 11 ----------
const p11Black: Pt[][] = [
  [[0.0,0.066],[0.1,0.07],[0.2,0.06],[0.28,0.05]],
  [[0.31,0.13],[0.35,0.1],[0.45,0.08],[0.55,0.06],[0.67,0.05]],
  [[0.7,0.24],[0.72,0.15],[0.8,0.1],[0.9,0.07],[1.0,0.05]],
  [[1.1,0.15],[1.15,0.11],[1.3,0.08],[1.5,0.05],[1.7,0.03],[1.82,0.02]],
  [[1.92,0.14],[1.97,0.09],[2.05,0.07],[2.15,0.06]],
  [[2.22,0.22],[2.25,0.12],[2.35,0.08],[2.45,0.07]],
  [[2.5,0.21],[2.55,0.13],[2.6,0.23],[2.65,0.13],[2.8,0.06],[2.95,0.02],[3.05,0.01],[3.3,0.01]],
  [[3.32,0.12],[3.4,0.25],[3.45,0.1],[3.5,0.19],[3.55,0.1],[3.67,0.19],[3.72,0.1],[3.85,0.04],[3.95,0.02],[4.0,0.01],[4.28,0.01]],
  [[4.29,0.12],[4.33,0.19],[4.38,0.1],[4.45,0.2],[4.5,0.1],[4.58,0.04],[4.6,0.02]],
  [[4.62,0.28],[4.66,0.18],[4.75,0.12],[4.85,0.09],[4.95,0.07],[5.05,0.05],[5.2,0.03],[5.35,0.01]],
  [[5.4,0.09],[5.45,0.16],[5.5,0.24],[5.55,0.15],[5.7,0.12],[5.9,0.1],[6.05,0.07],[6.2,0.04],[6.35,0.01],[6.95,0.01]],
  [[6.97,0.05],[7.05,0.04],[7.2,0.01],[7.45,0.01]],
  [[7.47,0.12],[7.52,0.14],[7.6,0.1],[7.75,0.05],[7.9,0.02],[8.0,0.01]],
  [[8.15,0.1],[8.2,0.14],[8.3,0.08],[8.45,0.04],[8.6,0.01],[8.9,0.0]],
  [[9.0,0.12],[9.05,0.09],[9.2,0.04],[9.35,0.01]],
  [[9.45,0.11],[9.5,0.08],[9.65,0.03],[9.8,0.01]],
  [[9.9,0.12],[9.95,0.09],[10.1,0.05],[10.3,0.02]],
  [[10.45,0.11],[10.5,0.09],[10.7,0.05],[10.95,0.04]],
  [[11.2,0.07],[11.3,0.06],[11.5,0.05],[11.75,0.045]],
];
const p11Yellow: Pt[] = [[4.44,0.43],[4.6,0.33],[4.62,0.32],[4.8,0.39],[4.82,0.4],[5.1,0.35],[5.35,0.23],[5.5,0.23],[5.55,0.26],[5.62,0.42],[5.63,0.4],[5.7,0.34],[5.85,0.3],[5.87,0.25],[6.0,0.25],[6.02,0.23],[6.1,0.23],[6.2,0.23],[6.28,0.23],[6.4,0.2],[6.42,0.19],[6.55,0.19],[6.65,0.18],[6.8,0.16],[6.98,0.23],[7.0,0.2],[7.13,0.2],[7.2,0.2],[7.35,0.17],[7.4,0.17],[7.5,0.28],[7.58,0.2],[7.65,0.28],[7.72,0.25],[7.78,0.24],[7.85,0.26],[8.0,0.27],[8.1,0.22],[8.2,0.3],[8.3,0.25],[8.4,0.27],[8.5,0.22],[8.6,0.26],[8.7,0.24],[8.85,0.28],[8.95,0.3],[9.05,0.25],[9.15,0.23],[9.3,0.27],[9.45,0.25],[9.6,0.3],[9.7,0.28],[9.8,0.33],[9.9,0.36],[10.0,0.35],[10.1,0.37],[10.2,0.33],[10.3,0.35],[10.35,0.38],[10.45,0.32],[10.55,0.34],[10.65,0.33]];
const p11Green: Pt[] = [[4.25,0.27],[4.3,0.26],[4.32,0.51],[4.35,0.19],[4.4,0.23],[4.45,0.3],[4.5,0.34],[4.55,0.4],[4.58,0.28],[4.6,0.29],[4.7,0.38],[4.72,0.36],[4.75,0.32],[4.78,0.55],[4.8,0.3],[4.85,0.23],[4.9,0.2],[5.0,0.37],[5.05,0.42],[5.1,0.29],[5.15,0.36],[5.2,0.2],[5.25,0.23],[5.3,0.17],[5.45,0.29],[5.5,0.46],[5.55,0.47],[5.65,0.36],[5.7,0.31],[5.8,0.3],[5.9,0.27],[5.95,0.23],[6.0,0.25],[6.1,0.22],[6.2,0.2],[6.3,0.17],[6.35,0.12],[6.4,0.1],[6.5,0.17],[6.6,0.14],[6.7,0.2],[6.75,0.11],[6.8,0.21],[6.95,0.08],[7.0,0.17],[7.1,0.23],[7.2,0.18],[7.3,0.25],[7.35,0.21],[7.45,0.18],[7.55,0.16],[7.6,0.23],[7.7,0.1],[7.8,0.24],[7.9,0.22],[8.0,0.2],[8.1,0.25],[8.2,0.3],[8.25,0.18],[8.35,0.22],[8.45,0.28],[8.55,0.33],[8.6,0.2],[8.7,0.25],[8.8,0.3],[8.9,0.22],[9.0,0.26],[9.1,0.31],[9.2,0.28],[9.3,0.35],[9.4,0.3],[9.5,0.38],[9.6,0.34],[9.7,0.4],[9.75,0.45],[9.8,0.38],[9.85,0.52],[9.9,0.32],[10.0,0.4],[10.1,0.35],[10.2,0.3],[10.3,0.38],[10.4,0.28],[10.5,0.33],[10.6,0.3]];
const p11Red: Pt[] = [[4.36,0.6],[4.44,0.53],[5.55,0.57],[7.47,0.37],[8.2,0.28]];
const p11Gray: Pt[] = [[4.12,0.48]];

// ---------- Panel 12 ----------
const p12Black: Pt[][] = [
  [[2.36,0.15],[2.45,0.13],[2.6,0.115],[2.73,0.108]],
  [[2.82,0.125],[2.9,0.12],[3.06,0.108]],
  [[3.12,0.15],[3.17,0.18],[3.19,0.22],[3.22,0.17],[3.28,0.2],[3.32,0.14],[3.4,0.11],[3.5,0.09]],
  [[3.58,0.155],[3.62,0.12],[3.7,0.09],[3.8,0.06]],
  [[3.95,0.12],[4.0,0.11],[4.1,0.1],[4.25,0.08],[4.4,0.06],[4.55,0.04],[4.7,0.025],[4.78,0.02]],
  [[4.82,0.12],[4.9,0.13],[4.95,0.2],[5.0,0.14],[5.08,0.12],[5.12,0.18],[5.18,0.12],[5.25,0.1]],
  [[5.3,0.17],[5.35,0.13],[5.42,0.11],[5.46,0.16],[5.5,0.12],[5.58,0.1],[5.65,0.08]],
  [[5.7,0.14],[5.75,0.12],[5.85,0.1],[5.95,0.08],[6.0,0.06]],
  [[6.02,0.13],[6.1,0.11],[6.2,0.09],[6.3,0.1],[6.4,0.08],[6.5,0.1],[6.6,0.07],[6.7,0.05],[6.85,0.035],[6.95,0.025],[7.1,0.015],[7.25,0.008]],
  [[7.36,0.1],[7.42,0.08],[7.5,0.07]],
  [[7.58,0.12],[7.65,0.1],[7.8,0.09],[7.9,0.08]],
  [[8.05,0.1],[8.1,0.08],[8.2,0.07]],
  [[8.3,0.12],[8.4,0.1],[8.5,0.08]],
  [[8.6,0.12],[8.7,0.1],[8.85,0.07],[9.0,0.05],[9.2,0.035],[9.45,0.027],[9.7,0.022],[9.85,0.022]],
  [[9.9,0.14],[9.93,0.18],[9.97,0.12],[10.05,0.11]],
  [[10.15,0.18],[10.2,0.12],[10.3,0.11]],
  [[10.5,0.15],[10.55,0.17],[10.6,0.12],[10.7,0.11]],
  [[10.78,0.16],[10.82,0.18],[10.88,0.12]],
  [[11.1,0.125],[11.12,0.12]],
  [[11.28,0.115],[11.32,0.115]],
  [[11.42,0.11],[11.47,0.12],[11.5,0.21],[11.52,0.16],[11.55,0.12]],
];
const p12Yellow: Pt[] = [[4.46,0.28],[4.52,0.29],[4.6,0.27],[4.68,0.28],[4.82,0.39],[4.88,0.34],[4.95,0.45],[5.0,0.36],[5.05,0.28],[5.13,0.35],[5.22,0.35],[5.34,0.32],[5.38,0.41],[5.42,0.37],[5.46,0.3],[5.55,0.34],[5.67,0.37],[5.75,0.32],[5.79,0.27],[5.86,0.26],[5.9,0.3],[6.02,0.33],[6.08,0.31],[6.17,0.3],[6.29,0.26],[6.31,0.24],[6.45,0.28],[6.5,0.24],[6.54,0.32],[6.66,0.3],[6.7,0.27],[6.79,0.21],[6.87,0.32],[6.92,0.24],[7.0,0.22],[7.07,0.26],[7.1,0.21],[7.24,0.28],[7.36,0.24],[7.49,0.28],[7.6,0.23],[7.65,0.28],[7.77,0.26],[7.9,0.3],[7.94,0.24],[8.02,0.28],[8.23,0.37],[8.27,0.27],[8.38,0.27],[8.48,0.25],[8.56,0.3],[8.6,0.31],[8.68,0.26],[8.77,0.23],[8.88,0.26],[8.92,0.27],[9.0,0.31],[9.04,0.22],[9.12,0.25],[9.18,0.22],[9.27,0.3],[9.35,0.21],[9.43,0.23],[9.51,0.26],[9.6,0.2],[9.68,0.28],[9.76,0.27],[9.83,0.31],[9.89,0.31],[9.97,0.31],[10.01,0.27],[10.09,0.33],[10.17,0.32],[10.3,0.24],[10.34,0.31],[10.42,0.32],[10.63,0.29],[10.67,0.28],[10.84,0.27]];
const p12Green: Pt[] = [[4.35,0.3],[4.4,0.29],[4.45,0.25],[4.5,0.22],[4.55,0.2],[4.6,0.18],[4.62,0.14],[4.7,0.15],[4.75,0.12],[4.78,0.22],[4.82,0.49],[4.85,0.3],[4.9,0.25],[4.95,0.27],[5.0,0.2],[5.05,0.16],[5.1,0.22],[5.15,0.15],[5.2,0.27],[5.25,0.38],[5.3,0.33],[5.35,0.3],[5.4,0.2],[5.45,0.25],[5.55,0.27],[5.6,0.16],[5.7,0.22],[5.75,0.18],[5.8,0.2],[5.9,0.14],[6.0,0.2],[6.05,0.17],[6.1,0.19],[6.2,0.14],[6.3,0.22],[6.4,0.16],[6.5,0.13],[6.6,0.15],[6.7,0.2],[6.75,0.12],[6.85,0.18],[6.95,0.09],[7.0,0.16],[7.05,0.03],[7.1,0.19],[7.2,0.1],[7.3,0.15],[7.4,0.12],[7.5,0.08],[7.6,0.14],[7.7,0.22],[7.8,0.17],[7.9,0.11],[8.0,0.15],[8.1,0.18],[8.2,0.13],[8.3,0.17],[8.4,0.19],[8.5,0.16],[8.6,0.14],[8.7,0.12],[8.8,0.1],[8.9,0.18],[9.0,0.13],[9.1,0.15],[9.2,0.11],[9.3,0.09],[9.4,0.12],[9.5,0.1],[9.6,0.13],[9.7,0.06],[9.8,0.11],[9.9,0.2],[10.0,0.17],[10.05,0.22],[10.15,0.18],[10.2,0.14],[10.3,0.17],[10.4,0.13],[10.5,0.15],[10.6,0.08],[10.7,0.12]];
const p12Red: Pt[] = [[8.95,0.0]];
const p12Gray: Pt[] = [[4.84,0.66]];

// ---------- assembly ----------
const panelData = [
  { black: p1Black, yellow: p1Yellow, green: p1Green, red: p1Red, gray: p1Gray },
  { black: p2Black, yellow: p2Yellow, green: p2Green, red: p2Red, gray: p2Gray },
  { black: p3Black, yellow: p3Yellow, green: p3Green, red: p3Red, gray: p3Gray },
  { black: p4Black, yellow: p4Yellow, green: p4Green, red: p4Red, gray: p4Gray },
  { black: p5Black, yellow: p5Yellow, green: p5Green, red: p5Red, gray: p5Gray },
  { black: p6Black, yellow: p6Yellow, green: p6Green, red: p6Red, gray: p6Gray },
  { black: p7Black, yellow: p7Yellow, green: p7Green, red: p7Red, gray: p7Gray },
  { black: p8Black, yellow: p8Yellow, green: p8Green, red: p8Red, gray: p8Gray },
  { black: p9Black, yellow: p9Yellow, green: p9Green, red: p9Red, gray: p9Gray },
  { black: p10Black, yellow: p10Yellow, green: p10Green, red: p10Red, gray: p10Gray },
  { black: p11Black, yellow: p11Yellow, green: p11Green, red: p11Red, gray: p11Gray },
  { black: p12Black, yellow: p12Yellow, green: p12Green, red: p12Red, gray: p12Gray },
];

// plot-area boxes in page pixels: [left, top, right, bottom]
const plotBoxes: [number, number, number, number][] = [
  [24, 20, 608, 170], [645, 20, 1226, 170],
  [27, 207, 610, 357], [644, 210, 1226, 356],
  [27, 407, 610, 556], [644, 409, 1226, 557],
  [30, 600, 612, 746], [648, 598, 1226, 745],
  [30, 790, 612, 936], [640, 790, 1222, 940],
  [30, 990, 612, 1138], [640, 990, 1225, 1139],
];

const AXIS_W = 40;
const TOP_SPACE = 18;
const BOTTOM_SPACE = 26;
const PAD_RIGHT = 1;

const toPts = (a: Pt[]) => a.map(([x, y]) => ({ x, y }));
const toLine = (segs: Pt[][]) => {
  const out: { x: number; y: number | null }[] = [];
  segs.forEach((s, i) => {
    if (i > 0) out.push({ x: s[0][0], y: null });
    s.forEach(([x, y]) => out.push({ x, y }));
  });
  return out;
};

const framePlugin = {
  id: 'idlFrame',
  afterDatasetsDraw(chart: any) {
    const { ctx, chartArea: a, scales } = chart;
    const xs = scales.x;
    const ys = scales.y;
    ctx.save();
    ctx.strokeStyle = '#7d7d7d';
    ctx.lineWidth = 1;
    ctx.strokeRect(Math.round(a.left) + 0.5, Math.round(a.top) + 0.5, Math.round(a.right - a.left) - 1, Math.round(a.bottom - a.top) - 1);
    ctx.beginPath();
    xs.ticks.forEach((t: any) => {
      if (t.value <= 0 || t.value >= 12) return;
      const px = Math.round(xs.getPixelForValue(t.value)) + 0.5;
      ctx.moveTo(px, a.bottom);
      ctx.lineTo(px, a.bottom - 4);
      ctx.moveTo(px, a.top);
      ctx.lineTo(px, a.top + 4);
    });
    ys.ticks.forEach((t: any) => {
      const py = Math.round(ys.getPixelForValue(t.value)) + 0.5;
      ctx.moveTo(a.left, py);
      ctx.lineTo(a.left + 11, py);
      ctx.moveTo(a.right, py);
      ctx.lineTo(a.right - 10, py);
    });
    ctx.stroke();
    ctx.restore();
  },
};

function Panel({ idx }: { idx: number }) {
  const ref = useRef<HTMLCanvasElement>(null);
  const [L, T, R, B] = plotBoxes[idx];
  const W = R - L + AXIS_W + PAD_RIGHT;
  const H = B - T + TOP_SPACE + BOTTOM_SPACE;

  useEffect(() => {
    if (!ref.current) return;
    const d = panelData[idx];
    const chart = new Chart(ref.current, {
      type: 'scatter',
      data: {
        datasets: [
          { data: toPts(d.red), pointStyle: 'cross', pointRadius: 4, borderColor: '#e01818', borderWidth: 1.2, order: 0, clip: false },
          { data: toPts(d.gray), pointStyle: 'cross', pointRadius: 5, borderColor: '#8a8a8a', borderWidth: 1.6, order: 0, clip: false },
          { data: toPts(d.yellow), pointStyle: 'circle', pointRadius: 4.4, backgroundColor: '#fbe800', borderWidth: 0, order: 1, clip: 5 },
          { data: toPts(d.green), pointStyle: 'cross', pointRadius: 4, borderColor: '#1f9a3c', borderWidth: 1.1, order: 2, clip: 5 },
          { data: toLine(d.black) as any, showLine: true, spanGaps: false, borderColor: '#000', borderWidth: 3.6, pointRadius: 0, borderCapStyle: 'round', borderJoinStyle: 'round', tension: 0, order: 3, clip: 3 },
        ] as any,
      },
      options: {
        responsive: false,
        animation: false,
        events: [],
        layout: { padding: { left: 0, right: PAD_RIGHT, top: 1, bottom: 0 } },
        plugins: {
          legend: { display: false },
          tooltip: { enabled: false },
          title: {
            display: true,
            fullSize: false,
            text: panelTitles[idx],
            color: '#222',
            font: { size: 13, weight: 'normal', lineHeight: '14px' } as any,
            padding: { top: 3, bottom: 0 },
          },
        },
        scales: {
          x: {
            type: 'linear',
            min: 0,
            max: 12,
            grid: { display: false, drawTicks: false, tickLength: 0 },
            border: { display: false },
            afterFit: (s: any) => { s.height = BOTTOM_SPACE; },
            ticks: {
              stepSize: 1,
              autoSkip: false,
              maxRotation: 0,
              padding: 3,
              color: '#333',
              font: { size: 10.5 },
              callback: (v: any) => (v >= 0 && v < 12 ? monthLabels[v] : ''),
            },
            title: { display: true, text: yearLabel, color: '#333', font: { size: 10.5, lineHeight: '12px' } as any, padding: 0 },
          },
          y: {
            type: 'linear',
            min: 0,
            max: 0.6,
            grid: { display: false, drawTicks: false, tickLength: 0 },
            border: { display: false },
            afterFit: (s: any) => { s.width = AXIS_W; },
            afterBuildTicks: (s: any) => { s.ticks = yTickValues.map((v) => ({ value: v })); },
            ticks: {
              padding: 2,
              color: '#333',
              font: { size: 10.5 },
              callback: (v: any) => Number(v).toFixed(1),
            },
          },
        },
      },
      plugins: [framePlugin],
    } as any);
    return () => chart.destroy();
  }, [idx]);

  return (
    <canvas
      ref={ref}
      width={W}
      height={H}
      style={{ position: 'absolute', left: L - AXIS_W, top: T - TOP_SPACE, width: W, height: H }}
    />
  );
}

export default function App() {
  Chart.defaults.font.family = "'Liberation Sans', Arial, Helvetica, sans-serif";
  return (
    <div style={{ position: 'absolute', left: 0, top: 0, width: 1227, height: 1165, overflow: 'hidden', background: '#fff' }}>
      {panelTitles.map((_, i) => (
        <Panel key={i} idx={i} />
      ))}
    </div>
  );
}
